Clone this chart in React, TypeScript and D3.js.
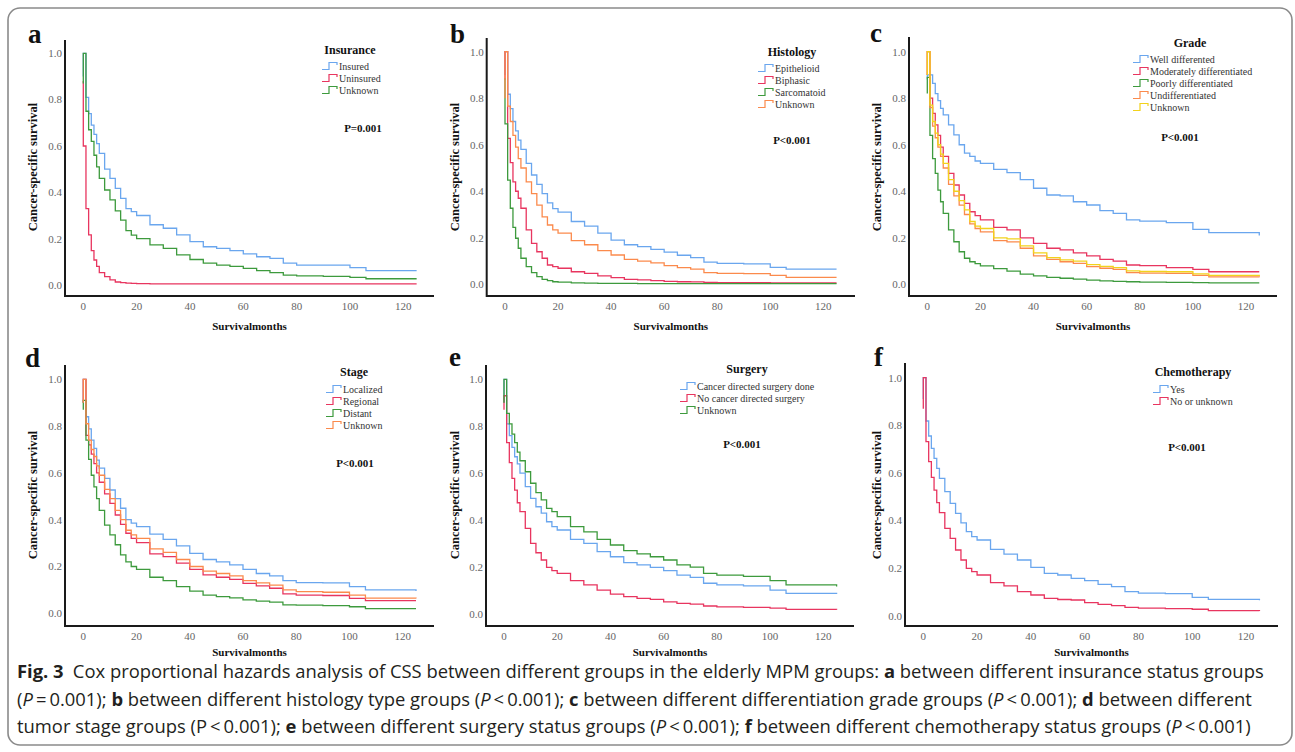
import * as d3 from "d3";

// follow-up grid (months) shared by every curve
const months = [0, 1, 2, 3, 4, 5, 6, 8, 10, 12, 14, 16, 18, 20, 25, 30, 35, 40, 45, 50, 55, 60, 65, 70, 75, 80, 90, 100, 106, 125];
const xTicks = [0, 20, 40, 60, 80, 100, 120];
const yTicks = [0, 0.2, 0.4, 0.6, 0.8, 1.0];

// a - insurance
const insured = [1.0, 0.81, 0.74, 0.69, 0.65, 0.61, 0.568, 0.5, 0.46, 0.417, 0.374, 0.33, 0.317, 0.3, 0.26, 0.245, 0.216, 0.187, 0.165, 0.158, 0.148, 0.134, 0.122, 0.115, 0.094, 0.086, 0.086, 0.075, 0.062, 0.062];
const uninsured = [0.6, 0.33, 0.216, 0.148, 0.108, 0.08, 0.053, 0.036, 0.022, 0.013, 0.01, 0.008, 0.007, 0.006, 0.005, 0.005, 0.005, 0.005, 0.005, 0.005, 0.005, 0.005, 0.005, 0.005, 0.005, 0.005, 0.005, 0.005, 0.005, 0.005];
const insUnknown = [1.0, 0.75, 0.67, 0.62, 0.56, 0.51, 0.46, 0.41, 0.367, 0.32, 0.28, 0.235, 0.215, 0.2, 0.173, 0.158, 0.13, 0.11, 0.094, 0.086, 0.08, 0.072, 0.062, 0.053, 0.043, 0.039, 0.037, 0.033, 0.027, 0.027];

// b - histology
const epithelioid = [1.0, 0.817, 0.755, 0.7, 0.66, 0.62, 0.58, 0.52, 0.47, 0.43, 0.39, 0.35, 0.325, 0.31, 0.27, 0.25, 0.22, 0.19, 0.17, 0.162, 0.15, 0.138, 0.125, 0.115, 0.095, 0.09, 0.088, 0.073, 0.065, 0.065];
const biphasic = [1.0, 0.627, 0.523, 0.44, 0.4, 0.37, 0.327, 0.234, 0.176, 0.14, 0.112, 0.083, 0.076, 0.069, 0.054, 0.047, 0.036, 0.029, 0.021, 0.019, 0.016, 0.013, 0.011, 0.01, 0.008, 0.007, 0.007, 0.006, 0.006, 0.006];
const sarcomatoid = [0.69, 0.448, 0.327, 0.245, 0.198, 0.155, 0.112, 0.076, 0.05, 0.033, 0.021, 0.016, 0.011, 0.009, 0.006, 0.005, 0.004, 0.004, 0.004, 0.003, 0.003, 0.003, 0.003, 0.003, 0.003, 0.003, 0.003, 0.003, 0.003, 0.003];
const histUnknown = [1.0, 0.766, 0.7, 0.64, 0.59, 0.54, 0.5, 0.44, 0.39, 0.34, 0.29, 0.255, 0.234, 0.22, 0.188, 0.17, 0.145, 0.126, 0.107, 0.1, 0.092, 0.08, 0.072, 0.065, 0.05, 0.047, 0.046, 0.038, 0.03, 0.03];

// c - grade
const wellDiff = [0.9, 0.9, 0.864, 0.82, 0.79, 0.756, 0.728, 0.685, 0.642, 0.6, 0.564, 0.55, 0.53, 0.52, 0.494, 0.48, 0.45, 0.413, 0.384, 0.38, 0.355, 0.341, 0.317, 0.305, 0.277, 0.272, 0.265, 0.236, 0.222, 0.21];
const moderateDiff = [1.0, 0.8, 0.735, 0.685, 0.64, 0.59, 0.55, 0.477, 0.427, 0.384, 0.348, 0.312, 0.295, 0.277, 0.245, 0.234, 0.2, 0.176, 0.155, 0.148, 0.135, 0.122, 0.107, 0.1, 0.083, 0.08, 0.072, 0.064, 0.054, 0.054];
const poorDiff = [0.89, 0.64, 0.54, 0.477, 0.405, 0.355, 0.305, 0.234, 0.183, 0.14, 0.112, 0.097, 0.089, 0.079, 0.067, 0.057, 0.044, 0.036, 0.03, 0.026, 0.022, 0.018, 0.015, 0.013, 0.011, 0.009, 0.008, 0.007, 0.006, 0.006];
const undiff = [1.0, 0.76, 0.68, 0.63, 0.59, 0.55, 0.5, 0.43, 0.38, 0.34, 0.3, 0.26, 0.24, 0.225, 0.188, 0.182, 0.155, 0.122, 0.107, 0.097, 0.09, 0.076, 0.069, 0.064, 0.05, 0.048, 0.047, 0.038, 0.032, 0.03];
const gradeUnknown = [1.0, 0.77, 0.7, 0.65, 0.6, 0.56, 0.52, 0.45, 0.4, 0.36, 0.32, 0.27, 0.25, 0.24, 0.2, 0.195, 0.165, 0.135, 0.115, 0.105, 0.1, 0.085, 0.077, 0.072, 0.058, 0.055, 0.054, 0.045, 0.038, 0.036];

// d - stage
const localized = [1.0, 0.84, 0.788, 0.74, 0.705, 0.655, 0.62, 0.577, 0.527, 0.49, 0.449, 0.4, 0.385, 0.37, 0.338, 0.316, 0.288, 0.256, 0.23, 0.22, 0.207, 0.188, 0.17, 0.16, 0.14, 0.131, 0.13, 0.114, 0.1, 0.095];
const regional = [1.0, 0.76, 0.72, 0.68, 0.64, 0.6, 0.56, 0.51, 0.47, 0.42, 0.38, 0.342, 0.32, 0.302, 0.254, 0.242, 0.214, 0.188, 0.164, 0.154, 0.145, 0.128, 0.117, 0.107, 0.083, 0.078, 0.076, 0.064, 0.054, 0.054];
const distant = [0.91, 0.74, 0.658, 0.59, 0.54, 0.49, 0.44, 0.377, 0.335, 0.293, 0.25, 0.22, 0.2, 0.188, 0.154, 0.14, 0.114, 0.095, 0.078, 0.071, 0.066, 0.057, 0.052, 0.048, 0.036, 0.035, 0.033, 0.028, 0.02, 0.02];
const stageUnknown = [1.0, 0.81, 0.74, 0.7, 0.67, 0.63, 0.59, 0.53, 0.49, 0.44, 0.4, 0.355, 0.335, 0.32, 0.275, 0.26, 0.23, 0.2, 0.18, 0.17, 0.16, 0.14, 0.13, 0.12, 0.1, 0.093, 0.09, 0.078, 0.065, 0.063];

// e - surgery
const surgeryDone = [1.0, 0.81, 0.76, 0.71, 0.67, 0.64, 0.6, 0.543, 0.493, 0.457, 0.43, 0.393, 0.372, 0.358, 0.318, 0.301, 0.266, 0.244, 0.219, 0.209, 0.199, 0.185, 0.166, 0.156, 0.131, 0.124, 0.12, 0.102, 0.088, 0.085];
const noSurgery = [0.93, 0.73, 0.645, 0.578, 0.528, 0.474, 0.436, 0.365, 0.301, 0.261, 0.23, 0.199, 0.185, 0.173, 0.142, 0.124, 0.102, 0.085, 0.074, 0.067, 0.062, 0.052, 0.045, 0.042, 0.034, 0.03, 0.028, 0.025, 0.02, 0.018];
const surgUnknown = [1.0, 0.855, 0.81, 0.766, 0.73, 0.69, 0.653, 0.606, 0.557, 0.517, 0.486, 0.45, 0.436, 0.415, 0.372, 0.35, 0.318, 0.294, 0.27, 0.256, 0.244, 0.23, 0.209, 0.2, 0.173, 0.166, 0.16, 0.142, 0.124, 0.117];

// f - chemotherapy
const chemoYes = [1.0, 0.818, 0.755, 0.703, 0.661, 0.619, 0.577, 0.521, 0.472, 0.43, 0.39, 0.353, 0.332, 0.318, 0.279, 0.259, 0.234, 0.203, 0.178, 0.171, 0.157, 0.147, 0.132, 0.122, 0.101, 0.095, 0.093, 0.077, 0.069, 0.065];
const chemoNo = [1.0, 0.731, 0.647, 0.581, 0.528, 0.475, 0.433, 0.367, 0.325, 0.276, 0.234, 0.199, 0.185, 0.171, 0.139, 0.125, 0.101, 0.087, 0.073, 0.068, 0.066, 0.055, 0.048, 0.042, 0.035, 0.032, 0.03, 0.027, 0.021, 0.02];

const BLUE = "#6aa6ee";
const RED = "#e8355f";
const GREEN = "#3d9a3d";
const ORANGE = "#fb8a4c";
const YELLOW = "#f2d21c";

const panels = [
  { letter: "a", title: "Insurance", p: "P=0.001", series: [
    { name: "Insured", color: BLUE, start: 0.9, values: insured },
    { name: "Uninsured", color: RED, start: 0.88, values: uninsured },
    { name: "Unknown", color: GREEN, start: 0.87, values: insUnknown },
  ] },
  { letter: "b", title: "Histology", p: "P<0.001", series: [
    { name: "Epithelioid", color: BLUE, start: 0.9, values: epithelioid },
    { name: "Biphasic", color: RED, start: 0.88, values: biphasic },
    { name: "Sarcomatoid", color: GREEN, start: 0.885, values: sarcomatoid },
    { name: "Unknown", color: ORANGE, start: 0.8, values: histUnknown },
  ] },
  { letter: "c", title: "Grade", p: "P<0.001", series: [
    { name: "Well differented", color: BLUE, start: 0.88, values: wellDiff },
    { name: "Moderately differentiated", color: RED, start: 0.9, values: moderateDiff },
    { name: "Poorly differentiated", color: GREEN, start: 0.82, values: poorDiff },
    { name: "Undifferentiated", color: ORANGE, start: 0.9, values: undiff },
    { name: "Unknown", color: YELLOW, start: 0.9, values: gradeUnknown },
  ] },
  { letter: "d", title: "Stage", p: "P<0.001", series: [
    { name: "Localized", color: BLUE, start: 0.9, values: localized },
    { name: "Regional", color: RED, start: 0.9, values: regional },
    { name: "Distant", color: GREEN, start: 0.87, values: distant },
    { name: "Unknown", color: ORANGE, start: 0.9, values: stageUnknown },
  ] },
  { letter: "e", title: "Surgery", p: "P<0.001", series: [
    { name: "Cancer directed surgery done", color: BLUE, start: 0.9, values: surgeryDone },
    { name: "No cancer directed surgery", color: RED, start: 0.87, values: noSurgery },
    { name: "Unknown", color: GREEN, start: 0.9, values: surgUnknown },
  ] },
  { letter: "f", title: "Chemotherapy", p: "P<0.001", series: [
    { name: "Yes", color: BLUE, start: 0.91, values: chemoYes },
    { name: "No or unknown", color: RED, start: 0.87, values: chemoNo },
  ] },
];

// pixel frames for the six panels
const frames = [
  { ax: 65, top: 40, base: 296, right: 434, x0: 83.3, x120: 403.3, y1: 53.3, y0: 285, lx: 28, ly: 43, ytx: 33, yty: 167, xtY: 330, legCx: 350, legTy: 54, legX: 322, legY: 70, pCx: 363, pY: 132 },
  { ax: 486.7, top: 38, base: 296, right: 855, x0: 505, x120: 823.3, y1: 51.7, y0: 284.3, lx: 450, ly: 43, ytx: 455, yty: 167, xtY: 330, legCx: 792, legTy: 56, legX: 758, legY: 72, pCx: 792, pY: 144 },
  { ax: 909, top: 37, base: 296, right: 1277, x0: 927.3, x120: 1246, y1: 51.7, y0: 284.3, lx: 870, ly: 42, ytx: 877, yty: 167, xtY: 330, legCx: 1190, legTy: 47, legX: 1133, legY: 63, pCx: 1180, pY: 141 },
  { ax: 65, top: 365, base: 626, right: 434, x0: 83.3, x120: 402.7, y1: 379.3, y0: 613.3, lx: 25, ly: 367, ytx: 33, yty: 495, xtY: 656, legCx: 354, legTy: 376, legX: 326, legY: 393, pCx: 355, pY: 467 },
  { ax: 486, top: 365, base: 626, right: 854, x0: 504, x120: 823.3, y1: 379.3, y0: 614, lx: 449, ly: 366, ytx: 455, yty: 495, xtY: 656, legCx: 747, legTy: 373, legX: 680, legY: 390, pCx: 742, pY: 448 },
  { ax: 905, top: 363, base: 626, right: 1278, x0: 923.3, x120: 1246, y1: 377.7, y0: 615.7, lx: 874, ly: 366, ytx: 877, yty: 495, xtY: 656, legCx: 1193, legTy: 376, legX: 1153, legY: 393, pCx: 1187, pY: 451 },
];

const SERIF = "'Liberation Serif', 'Times New Roman', serif";

function Panel({ panel, f }) {
  const x = d3.scaleLinear().domain([0, 120]).range([f.x0, f.x120]);
  const y = d3.scaleLinear().domain([0, 1]).range([f.y0, f.y1]);
  const line = d3.line().x((d) => x(d[0])).y((d) => y(d[1])).curve(d3.curveStepAfter);
  const tickY = f.base + 14;
  return (
    <g>
      <text x={f.lx} y={f.ly} fontFamily={SERIF} fontWeight="bold" fontSize={27} fill="#111">{panel.letter}</text>
      {panel.series.map((s) => {
        const pts = [[0, s.start], ...months.map((m, i) => [m, s.values[i]])];
        return <path key={s.name} d={line(pts)} fill="none" stroke={s.color} strokeWidth={1.3} />;
      })}
      <path d={`M${f.ax},${f.top}V${f.base}H${f.right}`} fill="none" stroke="#1a1a1a" strokeWidth={2} />
      {yTicks.map((t) => (
        <text key={t} x={f.ax - 3} y={y(t)} dy="0.35em" textAnchor="end" fontFamily={SERIF} fontSize={11} fill="#666">{t.toFixed(1)}</text>
      ))}
      {xTicks.map((t) => (
        <text key={t} x={x(t)} y={tickY} textAnchor="middle" fontFamily={SERIF} fontSize={11} fill="#666">{t}</text>
      ))}
      <text x={(f.ax + f.right) / 2} y={f.xtY} textAnchor="middle" fontFamily={SERIF} fontWeight="bold" fontSize={11} fill="#111">Survivalmonths</text>
      <text transform={`translate(${f.ytx},${f.yty}) rotate(-90)`} textAnchor="middle" dy="0.35em" fontFamily={SERIF} fontWeight="bold" fontSize={12.5} fill="#111">Cancer-specific survival</text>
      <text x={f.legCx} y={f.legTy} textAnchor="middle" fontFamily={SERIF} fontWeight="bold" fontSize={12} fill="#111">{panel.title}</text>
      {panel.series.map((s, i) => {
        const cy = f.legY + i * 12 - 4;
        return (
          <g key={s.name}>
            <path d={`M${f.legX},${cy + 3.5}H${f.legX + 7}V${cy - 3.5}H${f.legX + 15}V${cy - 1}`} fill="none" stroke={s.color} strokeWidth={1.2} />
            <text x={f.legX + 17} y={f.legY + i * 12} fontFamily={SERIF} fontSize={10} fill="#333">{s.name}</text>
          </g>
        );
      })}
      <text x={f.pCx} y={f.pY} textAnchor="middle" fontFamily={SERIF} fontWeight="bold" fontSize={11} fill="#111">{panel.p}</text>
    </g>
  );
}

// caption, as runs of [text, style]
const captionLines = [
  [["Fig. 3", "b"], ["\u2002Cox proportional hazards analysis of CSS between different groups in the elderly MPM groups: ", ""], ["a", "b"], [" between different insurance status groups", ""]],
  [["(", ""], ["P", "i"], ["\u2009=\u20090.001); ", ""], ["b", "b"], [" between different histology type groups (", ""], ["P", "i"], ["\u2009<\u20090.001); ", ""], ["c", "b"], [" between different differentiation grade groups (", ""], ["P", "i"], ["\u2009<\u20090.001); ", ""], ["d", "b"], [" between different", ""]],
  [["tumor stage groups (P\u2009<\u20090.001); ", ""], ["e", "b"], [" between different surgery status groups (", ""], ["P", "i"], ["\u2009<\u20090.001); ", ""], ["f", "b"], [" between different chemotherapy status groups (", ""], ["P", "i"], ["\u2009<\u20090.001)", ""]],
];

export default function App() {
  return (
    <svg width={1295} height={752} style={{ position: "absolute", left: 0, top: 0, background: "#fff" }}>
      <rect x={8} y={8} width={1284} height={737} rx={12} fill="#fff" stroke="#8a8a8a" strokeWidth={1.6} />
      {panels.map((p, i) => <Panel key={p.letter} panel={p} f={frames[i]} />)}
      {captionLines.map((runs, i) => (
        <text key={i} x={17} y={678 + i * 27.5} fontFamily="'Open Sans', 'Noto Sans', sans-serif" fontSize={18.4} fill="#231f20">
          {runs.map((r, j) => (
            <tspan key={j} fontWeight={r[1] === "b" ? "bold" : "normal"} fontStyle={r[1] === "i" ? "italic" : "normal"}>{r[0]}</tspan>
          ))}
        </text>
      ))}
    </svg>
  );
}
